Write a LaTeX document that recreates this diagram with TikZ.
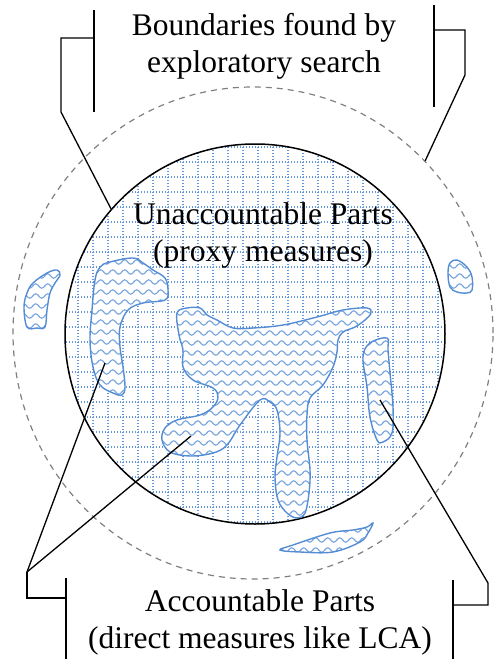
\documentclass[tikz,border=0pt]{standalone}
\usepackage{fontspec}
\setmainfont{Liberation Serif}
\usetikzlibrary{shapes.geometric, decorations.pathmorphing}

\definecolor{blobblue}{RGB}{84,141,212}
\definecolor{waveblue}{RGB}{120,165,222}
\definecolor{gridblue}{RGB}{100,150,220}

% blob: xmin, xmax, ymin, ymax, outline points
\newcommand{\blob}[5]{%
  \begin{scope}
    \clip plot[smooth cycle, tension=0.6] coordinates {#5};
    \fill[white] (#1,#3) rectangle (#2,#4);
    \pgfmathtruncatemacro{\nrows}{(#4-#3)/10}
    \foreach \i in {0,...,\nrows}
      \draw[wave] (#1,{#3+10*\i}) -- (#2,{#3+10*\i});
  \end{scope}
  \draw[blobline] plot[smooth cycle, tension=0.6] coordinates {#5};
}

\begin{document}
\begin{tikzpicture}[x={(1pt,0)}, y={(0,-1pt)},
  txt/.style={align=center, font=\fontsize{31.5}{37}\selectfont, inner sep=0pt},
  gridline/.style={gridblue, line width=1.4pt, dash pattern=on 0.9pt off 2.1pt},
  wave/.style={waveblue, line width=1.1pt, decorate,
    decoration={snake, segment length=12pt, amplitude=2.2pt}},
  blobline/.style={blobblue, line width=1.4pt},
  bar/.style={line width=1.8pt},
  conn/.style={line width=1.3pt}]
  \useasboundingbox (0,0) rectangle (493,659);

  \node[draw=gray, line width=1.2pt, dash pattern=on 6pt off 5pt,
    ellipse, minimum width=480, minimum height=492] (outer) at (253,333) {};

  \begin{scope}
    \clip (255,334) circle (190);
    \foreach \x in {63,78,...,445}
      \draw[gridline] (\x,141) -- (\x,528);
    \foreach \y in {147,162,...,525}
      \draw[gridline] (63,\y) -- (450,\y);
  \end{scope}
  \node[draw, circle, line width=1.5pt, minimum size=380] (inner) at (255,334) {};

  \blob{85}{172}{252}{400}{(110,262) (133,258) (143,263) (153,270) (165,278)
    (168,290) (165,300) (143,303) (128,310) (120,327) (120,347) (123,367)
    (125,387) (122,395) (113,393) (100,385) (93,367) (90,340) (92,310)
    (95,280) (100,267)}
  \blob{158}{375}{303}{522}{(177,313) (187,308) (200,308) (207,315) (217,320)
    (233,328) (253,328) (283,325) (317,317) (343,310) (367,308) (371,313)
    (365,320) (355,327) (343,332) (338,340) (337,352) (333,367) (323,385)
    (310,398) (307,415) (307,440) (310,470) (309,493) (305,513) (297,518)
    (287,513) (278,500) (275,477) (277,457) (280,433) (277,410) (270,402)
    (260,400) (240,425) (227,445) (213,453) (190,456) (170,452) (162,440)
    (165,428) (177,420) (200,415) (213,407) (218,397) (213,388) (193,380)
    (183,367) (183,350) (179,335)}
  \blob{358}{398}{333}{447}{(370,343) (387,338) (388,350) (390,373) (393,407)
    (392,433) (383,442) (377,440) (370,417) (367,387) (363,357)}
  \blob{20}{64}{266}{332}{(33,283) (47,273) (57,270) (60,275) (55,283) (50,293)
    (47,310) (45,327) (37,328) (27,327) (24,307) (27,293)}
  \blob{444}{476}{256}{297}{(450,263) (457,260) (467,267) (472,277) (472,290)
    (467,293) (457,292) (450,287) (448,273)}
  \blob{276}{377}{520}{556}{(280,550) (293,545) (330,533) (353,530) (367,527)
    (373,523) (368,533) (360,542) (333,552) (300,552)}

  \node[txt] (bound) at (264,46) {Boundaries found by\\exploratory search};
  \node[txt] (unacc) at (263,235) {Unaccountable Parts\\(proxy measures)};
  \node[txt] (acc) at (260,622) {Accountable Parts\\(direct measures like LCA)};

  \draw[bar] (94,10) -- (94,112);
  \draw[bar] (434,5) -- (434,107);
  \draw[bar] (66,578) -- (66,659);
  \draw[bar] (453,580) -- (453,659);

  \coordinate (bl) at (94,38);
  \coordinate (br) at (434,30);
  \coordinate (al) at (66,598);
  \coordinate (ar) at (453,605);
  \coordinate (ptA) at (105,363);
  \coordinate (ptB) at (191,436);
  \coordinate (ptC) at (380,400);

  \draw[conn] (bl) -- (61,38) -- (61,112) -- (inner.139);
  \draw[conn] (br) -- (465,30) -- (465,75) -- (outer.45);
  \draw[conn] (al) -- (27,598) -- (27,572) coordinate (fork);
  \draw[conn] (fork) -- (ptA);
  \draw[conn] (fork) -- (ptB);
  \draw[conn] (ar) -- (488,605) -- (488,583) -- (ptC);
\end{tikzpicture}
\end{document}
